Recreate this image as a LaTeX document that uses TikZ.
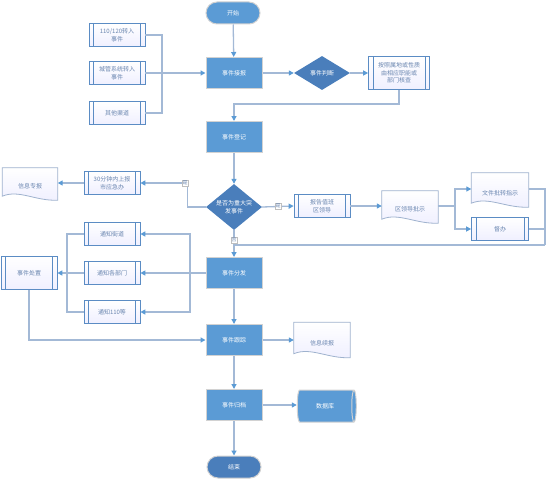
\documentclass[tikz,border=0pt]{standalone}
\usepackage{fontspec}
\setmainfont{Noto Sans CJK SC}
\usetikzlibrary{shapes.geometric,shapes.misc,arrows.meta,calc}
\definecolor{bfill}{HTML}{5B9BD5}
\definecolor{dfill}{HTML}{4A7EBB}
\definecolor{eline}{HTML}{A3B9D6}
\definecolor{pline}{HTML}{5B8CC4}
\definecolor{tcol}{HTML}{6A86B0}
\definecolor{dline}{HTML}{9FB2CE}
\tikzset{
  base/.style={font=\fontsize{6}{7.5}\selectfont, align=center, inner sep=1pt},
  rectb/.style={base, rectangle, draw=gray!35, line width=1pt, fill=bfill, text=white, minimum width=56pt, minimum height=31pt},
  term/.style={base, rounded rectangle, draw=gray!35, line width=1pt, fill=bfill, text=white, minimum width=56pt, minimum height=22pt},
  termd/.style={term, fill=dfill},
  dia/.style={diamond, fill=dfill, draw=none, minimum width=56pt, minimum height=34pt, inner sep=0pt},
  wtext/.style={base, text=white},
  proc/.style={base, rectangle, draw=pline, line width=0.7pt, top color=white, bottom color=blue!6, text=tcol, minimum width=56pt, minimum height=23pt},
  docn/.style={base, rectangle, draw=none, text=tcol, minimum width=56pt, minimum height=30pt},
  cyl/.style={base, cylinder, shape border rotate=0, aspect=0.6, draw=gray!35, line width=1pt, fill=bfill, text=white, minimum width=32pt, minimum height=59pt},
  conn/.style={draw=eline, line width=1.3pt},
  arr/.style={conn, -{Triangle[length=5pt,width=5pt,color=bfill]}},
  yn/.style={font=\fontsize{5}{5}\selectfont, draw=gray!50, fill=white, inner sep=0.6pt, text=tcol},
}
\newcommand\bars[1]{\draw[pline, line width=0.6pt] ([xshift=5pt]#1.north west) -- ([xshift=5pt]#1.south west)
  ([xshift=-5pt]#1.north east) -- ([xshift=-5pt]#1.south east);}
\newcommand\mydoc[1]{\draw[dline, line width=0.8pt, top color=white, bottom color=blue!6]
  ([yshift=-2pt]#1.south east) -- (#1.north east) -- (#1.north west) -- ([yshift=2pt]#1.south west)
  .. controls ($(#1.south west)!0.3!(#1.south east)+(0,-9)$) and ($(#1.south west)!0.6!(#1.south east)+(0,3)$) .. ([yshift=-2pt]#1.south east) -- cycle;}
\begin{document}
\begin{tikzpicture}[x=1pt,y=-1pt]
\useasboundingbox (0,0) rectangle (553,484);
% main column
\node[term] (st) at (233,13) {开始};
\node[rectb] (jb) at (234,73) {事件接报};
\node[rectb] (dj) at (234,137) {事件登记};
\node[rectb] (fp) at (234,273) {事件分发};
\node[rectb] (gz) at (234,340) {事件跟踪};
\node[rectb] (gd) at (234,405) {事件归档};
\node[termd] (en) at (234,467) {结束};
% inputs
\node[proc] (in1) at (117,35) {110/120转入\\事件};
\node[proc] (in2) at (117,73) {城管系统转入\\事件};
\node[proc] (in3) at (117,113) {其他渠道};
\bars{in1}\bars{in2}\bars{in3}
% judge
\node[dia] (pd) at (322,73) {};
\node[wtext] (pdt) at (pd) {事件判断};
\node[proc, minimum width=61pt, minimum height=33pt] (az) at (399,73) {按照属地或性质\\由相应职能或\\部门核查};
\bars{az}
% major event diamond
\node[dia, minimum height=46pt] (d2) at (234,207) {};
\node[wtext] (d2t) at (d2) {是否为重大突\\发事件};
\node[proc] (sb) at (112,183) {30分钟内上报\\市应急办};
\bars{sb}
\node[docn, minimum width=55pt] (xz) at (30,183) {};
\mydoc{xz}
\node[base, text=tcol] (xzt) at ([yshift=-3pt]xz.center) {信息专报};
\node[proc] (bg) at (322,206) {报告值班\\区领导};
\bars{bg}
\node[docn] (ps) at (410,206) {};
\mydoc{ps}
\node[base, text=tcol] (pst) at ([yshift=-3pt]ps.center) {区领导批示};
\node[docn, minimum width=57pt, minimum height=32pt] (wj) at (500,189) {};
\mydoc{wj}
\node[base, text=tcol] (wjt) at ([yshift=-4pt]wj.center) {文件批转指示};
\node[proc, minimum width=57pt] (db) at (500,229) {督办};
\bars{db}
% notification
\node[proc] (t1) at (112,234) {通知街道};
\node[proc] (t2) at (112,273) {通知各部门};
\node[proc] (t3) at (112,312) {通知110等};
\bars{t1}\bars{t2}\bars{t3}
\node[proc, minimum width=56pt, minimum height=33pt] (cz) at (29,273) {事件处置};
\bars{cz}
\node[docn, minimum height=33pt] (xb) at (322,339) {};
\mydoc{xb}
\node[base, text=tcol] (xbt) at ([yshift=-4pt]xb.center) {信息续报};
\node[cyl] (sk) at (325,406) {数据库};
% connectors
\coordinate (mj) at (162,73);
\draw[arr] (st) -- (jb);
\draw[conn] (in1.east) -| (mj);
\draw[conn] (in3.east) -| (mj);
\draw[arr] (in2.east) -- (jb.west);
\draw[arr] (jb) -- (pd);
\draw[arr] (pd) -- (az);
\draw[arr] (az.south) -- ++(0,14) -| (dj.north);
\draw[arr] (dj) -- (d2);
\draw[arr] (d2.west) -- ++(-18,0) |- (sb.east);
\node[yn] (y1) at (185,183) {是};
\draw[arr] (sb.west) -- (xz.east);
\draw[arr] (d2.east) -- (bg.west);
\node[yn] (y2) at (278,206) {是};
\draw[arr] (bg.east) -- (ps.west);
\coordinate (br) at (455,206);
\draw[conn] (ps.east) -- (br);
\draw[arr] (br) |- (wj.west);
\draw[arr] (br) |- (db.west);
\coordinate (rc) at (545,245);
\draw[conn] (wj.east) -| (rc);
\draw[conn] (db.east) -| (rc);
\draw[conn] (rc) -- (rc -| d2.south);
\draw[arr] (d2.south) -- (fp.north);
\node[yn] (n1) at (234,240) {否};
\coordinate (fx) at (190,273);
\draw[conn] (fp.west) -- (fx);
\draw[arr] (fx) |- (t1.east);
\draw[arr] (fx) -- (t2.east);
\draw[arr] (fx) |- (t3.east);
\coordinate (gx) at (67,273);
\draw[conn] (t1.west) -| (gx);
\draw[conn] (t3.west) -| (gx);
\draw[arr] (t2.west) -- (cz.east);
\draw[arr] (cz.south) |- (gz.west);
\draw[arr] (fp) -- (gz);
\draw[arr] (gz.east) -- (gz.east -| xb.west);
\draw[arr] (gz) -- (gd);
\draw[arr] (gd.east) -- (gd.east -| sk.west);
\draw[arr] (gd) -- (en);
\end{tikzpicture}
\end{document}
